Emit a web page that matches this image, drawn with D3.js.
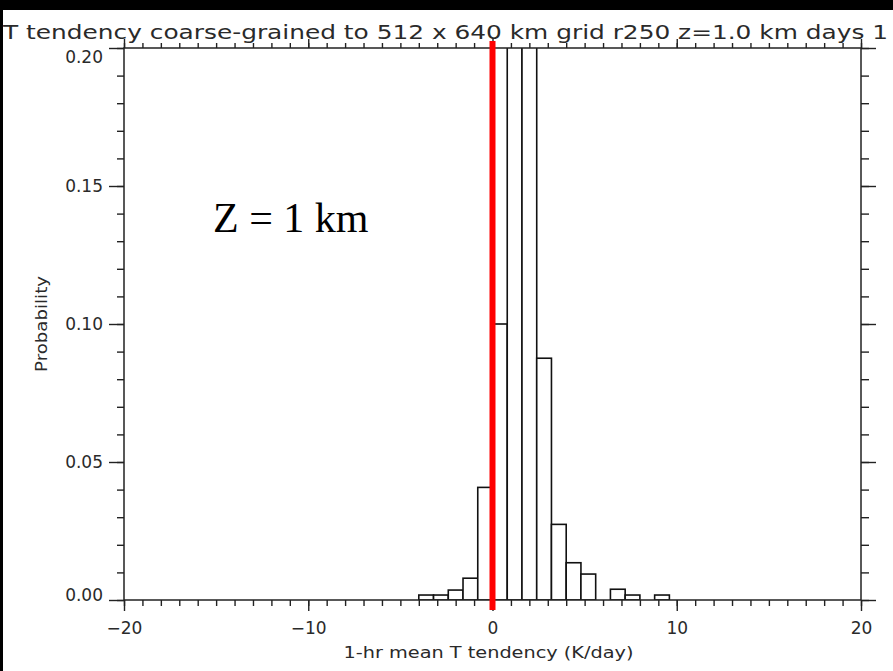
<!DOCTYPE html>
<html>
<head>
<meta charset="utf-8">
<script src="https://cdn.jsdelivr.net/npm/d3@7"></script>
<style>
  html, body { margin: 0; padding: 0; background: #fff; }
  svg { display: block; }
</style>
</head>
<body>
<svg id="chart" width="893" height="671"></svg>
<script>
// ---- data ----
const binLefts = [-4.0, -3.2, -2.4, -1.6, -0.8, 0.0, 0.8, 1.6, 2.4, 3.2, 4.0, 4.8, 5.6, 6.4, 7.2, 8.0, 8.8];
const binWidth = 0.8;
const probabilities = [0.0018, 0.0018, 0.0036, 0.0079, 0.0408, 0.100, 0.36, 0.34, 0.0876, 0.0274, 0.0135, 0.0094, 0.0, 0.0039, 0.0018, 0.0, 0.0018];
const xMajorTicks = [-20, -10, 0, 10, 20];
const yMajorTicks = [0.00, 0.05, 0.10, 0.15, 0.20];
const xDomain = [-20, 20];
const yDomain = [0, 0.20];
const markerX = 0;
const titleText = "T tendency coarse-grained to 512 x 640 km grid  r250 z=1.0 km days 1";
const xLabel = "1-hr mean T tendency (K/day)";
const yLabel = "Probability";
const annotation = "Z = 1 km";

// ---- layout ----
const svg = d3.select("#chart");
const pL = 124, pR = 861, pT = 48, pB = 600;
const x = d3.scaleLinear().domain(xDomain).range([pL, pR]);
const y = d3.scaleLinear().domain(yDomain).range([pB, pT]);
const xMinorTicks = d3.range(xDomain[0], xDomain[1] + 0.001, 1);
const yMinorTicks = d3.range(0, 0.2001, 0.01).map(v => +v.toFixed(2));
const axisColor = "#222";
const textColor = "#2a2a2a";
const tickFont = "DejaVu Sans, sans-serif";

svg.append("rect").attr("width", 893).attr("height", 671).attr("fill", "#fff");
// black borders from the original screen capture
svg.append("rect").attr("x", 0).attr("y", 0).attr("width", 893).attr("height", 10).attr("fill", "#000");
svg.append("rect").attr("x", 0).attr("y", 0).attr("width", 3).attr("height", 671).attr("fill", "#000");

// clip
svg.append("defs").append("clipPath").attr("id", "plotclip")
  .append("rect").attr("x", pL).attr("y", pT).attr("width", pR - pL).attr("height", pB - pT);

// bars
const bins = binLefts.map((b, i) => ({ x0: b, x1: b + binWidth, v: probabilities[i] }));
svg.append("g").attr("clip-path", "url(#plotclip)")
  .selectAll("rect").data(bins.filter(d => d.v > 0)).join("rect")
  .attr("x", d => x(d.x0))
  .attr("width", d => x(d.x1) - x(d.x0))
  .attr("y", d => y(Math.min(d.v, yDomain[1] + 0.01)))
  .attr("height", d => pB - y(Math.min(d.v, yDomain[1] + 0.01)))
  .attr("fill", "#fff")
  .attr("stroke", "#111")
  .attr("stroke-width", 1.6);

function styleAxis(g) {
  g.select(".domain").remove();
  g.selectAll(".tick line").attr("stroke", axisColor).attr("stroke-width", 1.4);
  g.selectAll("text").attr("fill", textColor).attr("font-family", tickFont).attr("font-size", 17);
}

// bottom axis
svg.append("g").attr("transform", `translate(0,${pB})`)
  .call(d3.axisBottom(x).tickValues(xMinorTicks).tickSize(6).tickFormat(""))
  .call(styleAxis);
svg.append("g").attr("transform", `translate(0,${pB})`)
  .call(d3.axisBottom(x).tickValues(xMajorTicks).tickSize(11).tickPadding(11).tickFormat(d3.format("d")))
  .call(styleAxis);
// top axis
svg.append("g").attr("transform", `translate(0,${pT})`)
  .call(d3.axisTop(x).tickValues(xMinorTicks).tickSize(5).tickFormat(""))
  .call(styleAxis);
svg.append("g").attr("transform", `translate(0,${pT})`)
  .call(d3.axisTop(x).tickValues(xMajorTicks).tickSize(9).tickFormat(""))
  .call(styleAxis);
// left axis
svg.append("g").attr("transform", `translate(${pL},0)`)
  .call(d3.axisLeft(y).tickValues(yMinorTicks).tickSize(7).tickFormat(""))
  .call(styleAxis);
const leftMajor = svg.append("g").attr("transform", `translate(${pL},0)`)
  .call(d3.axisLeft(y).tickValues(yMajorTicks).tickSize(15).tickPadding(6).tickFormat(d3.format(".2f")))
  .call(styleAxis);
leftMajor.selectAll("text").attr("dy", d => d === 0.20 ? "0.85em" : (d === 0 ? "0.05em" : "0.35em"));
// right axis
svg.append("g").attr("transform", `translate(${pR},0)`)
  .call(d3.axisRight(y).tickValues(yMinorTicks).tickSize(8).tickFormat(""))
  .call(styleAxis);
svg.append("g").attr("transform", `translate(${pR},0)`)
  .call(d3.axisRight(y).tickValues(yMajorTicks).tickSize(15).tickFormat(""))
  .call(styleAxis);

// frame
svg.append("rect").attr("x", pL).attr("y", pT).attr("width", pR - pL).attr("height", pB - pT)
  .attr("fill", "none").attr("stroke", axisColor).attr("stroke-width", 1.5);

// red marker line at x = 0
svg.append("line")
  .attr("x1", x(markerX)).attr("x2", x(markerX))
  .attr("y1", pT - 7).attr("y2", pB + 10)
  .attr("stroke", "#ff0000").attr("stroke-width", 6);

// title
svg.append("text")
  .attr("x", 3).attr("y", 39)
  .attr("font-family", tickFont).attr("font-size", 19).attr("fill", textColor)
  .attr("textLength", 885).attr("lengthAdjust", "spacingAndGlyphs")
  .text(titleText);

// axis labels
svg.append("text")
  .attr("x", (pL + pR) / 2 - 4).attr("y", 658)
  .attr("text-anchor", "middle")
  .attr("font-family", tickFont).attr("font-size", 16).attr("fill", textColor)
  .attr("textLength", 290).attr("lengthAdjust", "spacingAndGlyphs")
  .text(xLabel);
svg.append("text")
  .attr("transform", `translate(47,${y(0.10)}) rotate(-90)`)
  .attr("text-anchor", "middle")
  .attr("font-family", tickFont).attr("font-size", 16).attr("fill", textColor)
  .attr("textLength", 96).attr("lengthAdjust", "spacingAndGlyphs")
  .text(yLabel);

// annotation
svg.append("text")
  .attr("x", 213).attr("y", 232)
  .attr("font-family", "Liberation Serif, 'Times New Roman', serif").attr("font-size", 42).attr("fill", "#000")
  .text(annotation);
</script>
</body>
</html>
